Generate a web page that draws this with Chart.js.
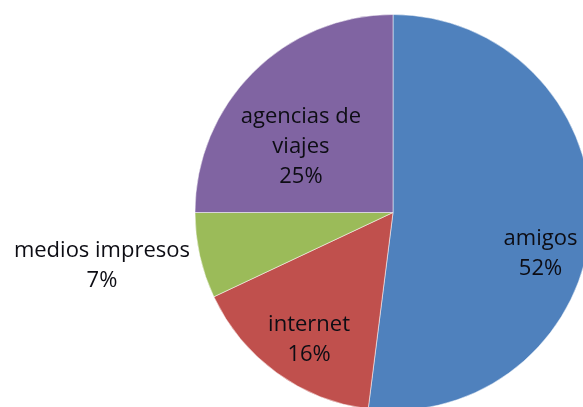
<!DOCTYPE html>
<html>
<head>
<meta charset="utf-8">
<script src="https://cdn.jsdelivr.net/npm/chart.js@4"></script>
<style>
  html, body { margin: 0; padding: 0; background: #fff; overflow: hidden; width: 583px; height: 407px; }
  #wrap { position: absolute; left: 0; top: 0; width: 800px; height: 500px; }
</style>
</head>
<body>
<div id="wrap"><canvas id="myChart" width="800" height="500"></canvas></div>
<script>
'use strict';

const categories = ['amigos', 'internet', 'medios impresos', 'agencias de viajes'];
const values = [52, 16, 7, 25];
const labelLines = [['amigos'], ['internet'], ['medios impresos'], ['agencias de', 'viajes']];
const colors = ['#4F81BD', '#C0504D', '#9BBB59', '#8064A2'];

// label anchor relative to pie centre, in units of the radius
const labelPos = [[0.745, 0.21], [-0.424, 0.645], [-1.47, 0.268], [-0.465, -0.333]];

const sliceLabels = {
	id: 'sliceLabels',
	afterDatasetsDraw(chart) {
		const ctx = chart.ctx;
		const meta = chart.getDatasetMeta(0);
		const total = values.reduce((a, b) => a + b, 0);
		ctx.save();
		ctx.font = '22px "Open Sans"';
		ctx.fillStyle = '#0d0d14';
		ctx.textAlign = 'center';
		ctx.textBaseline = 'middle';
		meta.data.forEach((arc, i) => {
			const cx = arc.x + labelPos[i][0] * arc.outerRadius;
			const cy = arc.y + labelPos[i][1] * arc.outerRadius;
			const lines = labelLines[i].concat([Math.round(values[i] / total * 100) + '%']);
			const lh = 30;
			const y0 = cy - (lines.length - 1) * lh / 2;
			lines.forEach((t, k) => ctx.fillText(t, cx, y0 + k * lh));
		});
		ctx.restore();
	}
};

const ctx = document.getElementById('myChart').getContext('2d');

const myChart = new Chart(ctx, {
	type: 'pie',
	data: {
		labels: categories,
		datasets: [
			{
				data: values,
				backgroundColor: colors,
				borderColor: 'rgba(255,255,255,0.5)',
				borderWidth: 1,
				hoverOffset: 0,
			},
		],
	},
	options: {
		responsive: false,
		animation: false,
		layout: {
			padding: { left: 194, top: 14, right: 208, bottom: 89 },
		},
		plugins: {
			legend: { display: false },
			tooltip: { enabled: false },
		},
	},
	plugins: [sliceLabels],
});
</script>
</body>
</html>
